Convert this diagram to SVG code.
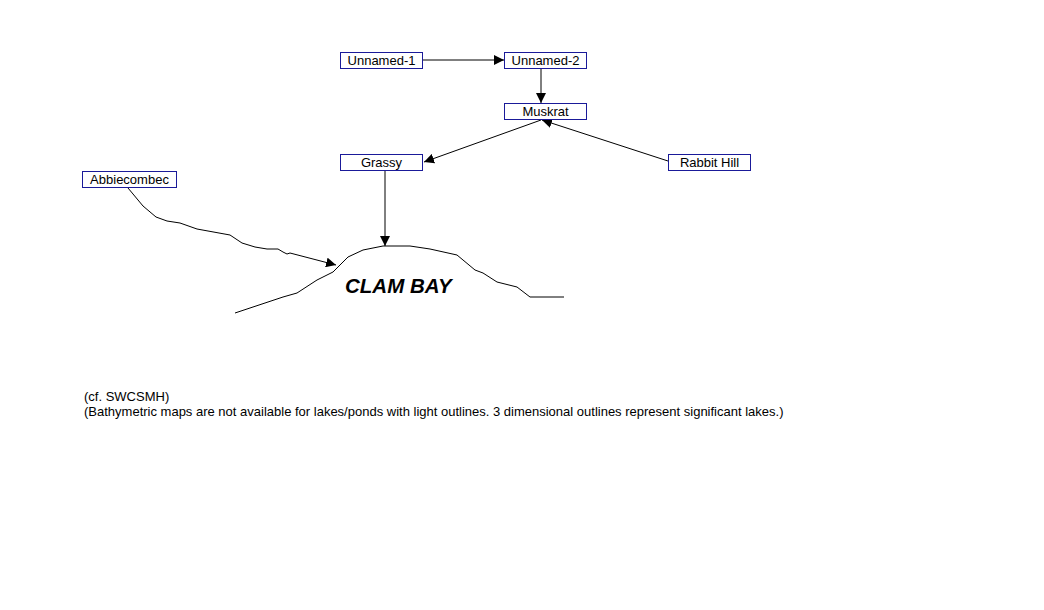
<svg xmlns="http://www.w3.org/2000/svg" width="1044" height="610" viewBox="0 0 1044 610">
<style>
.box{fill:#fff;stroke:#1a1a99;stroke-width:1}
.lbl{font-family:"Liberation Sans",Arial,sans-serif;font-size:13px;fill:#000;text-anchor:middle}
.ln{fill:none;stroke:#000;stroke-width:1}
.note{font-family:"Liberation Sans",Arial,sans-serif;font-size:13px;fill:#000}
</style>
<defs>
<marker id="ah" viewBox="0 0 10 10" refX="10" refY="5" markerWidth="10" markerHeight="10" markerUnits="userSpaceOnUse" orient="auto">
<path d="M0,0 L10,5 L0,10 z" fill="#000"/>
</marker>
</defs>
<rect width="1044" height="610" fill="#fff"/>
<g id="coast">
<path class="ln" d="M235,313 L283,297 L297,293 L317,280 L333,272 L348,257 L363,250 L383,246 L410,246 L430,249 L457,255 L475,270 L483,273 L497,282 L517,287 L530,297 L564,297"/>
</g>
<g id="connectors">
<line class="ln" x1="423" y1="60" x2="504" y2="60" marker-end="url(#ah)"/>
<line class="ln" x1="541" y1="68" x2="541" y2="103" marker-end="url(#ah)"/>
<line class="ln" x1="668" y1="161" x2="542" y2="120" marker-end="url(#ah)"/>
<line class="ln" x1="541" y1="120" x2="424" y2="162" marker-end="url(#ah)"/>
<line class="ln" x1="385" y1="170" x2="385" y2="246" marker-end="url(#ah)"/>
<path class="ln" d="M128,188 L143,206 L156,217 L167,221 L180,223 L197,229 L208,231 L230,235 L242,243 L255,247 L267,249 L278,249 L283,252 L287,254 L290,253 L336,265" marker-end="url(#ah)"/>
</g>
<g id="unnamed-1"><rect class="box" x="340.5" y="52.5" width="82" height="16"/><text class="lbl" x="381.5" y="65">Unnamed-1</text></g>
<g id="unnamed-2"><rect class="box" x="504.5" y="52.5" width="82" height="16"/><text class="lbl" x="545.5" y="65">Unnamed-2</text></g>
<g id="muskrat"><rect class="box" x="504.5" y="103.5" width="82" height="16"/><text class="lbl" x="545.5" y="116">Muskrat</text></g>
<g id="grassy"><rect class="box" x="340.5" y="154.5" width="82" height="16"/><text class="lbl" x="381.5" y="167">Grassy</text></g>
<g id="rabbit-hill"><rect class="box" x="668.5" y="154.5" width="82" height="16"/><text class="lbl" x="709.5" y="167">Rabbit Hill</text></g>
<g id="abbiecombec"><rect class="box" x="82.5" y="171.5" width="94" height="16"/><text class="lbl" x="129.5" y="184">Abbiecombec</text></g>
<g id="clam-bay"><text x="345" y="293" font-family="'Liberation Sans',Arial,sans-serif" font-size="20.5px" font-weight="bold" font-style="italic" fill="#000">CLAM BAY</text></g>
<g id="notes">
<text class="note" x="84" y="401">(cf. SWCSMH)</text>
<text class="note" x="84" y="416">(Bathymetric maps are not available for lakes/ponds with light outlines. 3 dimensional outlines represent significant lakes.)</text>
</g>
</svg>
